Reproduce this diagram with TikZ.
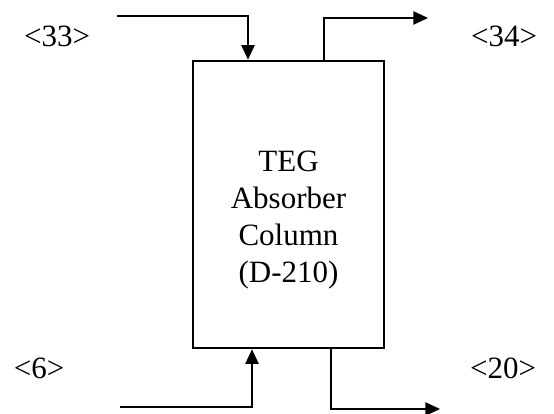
\documentclass[tikz,border=0pt]{standalone}
\usepackage{fontspec}
\setmainfont{Liberation Serif}
\usetikzlibrary{arrows.meta,calc}
\tikzstyle{every node}=[font=\fontsize{23.25}{27.75}\selectfont]
\tikzstyle{unit}=[draw, line width=1.9pt, minimum width=143.25pt, minimum height=215.25pt]
\tikzstyle{stream}=[line width=1.1pt]
\tikzset{>={Triangle[length=11pt,width=10pt]}}

\begin{document}
\begin{tikzpicture}[x=0.75pt, y=-0.75pt]
\useasboundingbox (0,0) rectangle (554,414);

\node (column) [unit] at (288.5,204.5) {};
\node (name) [align=center] at (288.5,220) {TEG\\Absorber\\Column\\(D-210)};

\node (l33) at (57,36)  {<33>};
\node (l34) at (504,36) {<34>};
\node (l6)  at (39,368) {<6>};
\node (l20) at (503,368) {<20>};

\coordinate (s33) at (117,16);
\coordinate (e34) at (428,18);
\coordinate (s6)  at (120,407);
\coordinate (e20) at (440,409);

\draw [stream,->] (s33) -| ($(column.north)+(-40.5,0)$);
\draw [stream,->] ($(column.north)+(35.5,0)$) |- (e34);
\draw [stream,->] (s6)  -| ($(column.south)+(-36.5,0)$);
\draw [stream,->] ($(column.south)+(42.5,0)$) |- (e20);

\end{tikzpicture}
\end{document}
